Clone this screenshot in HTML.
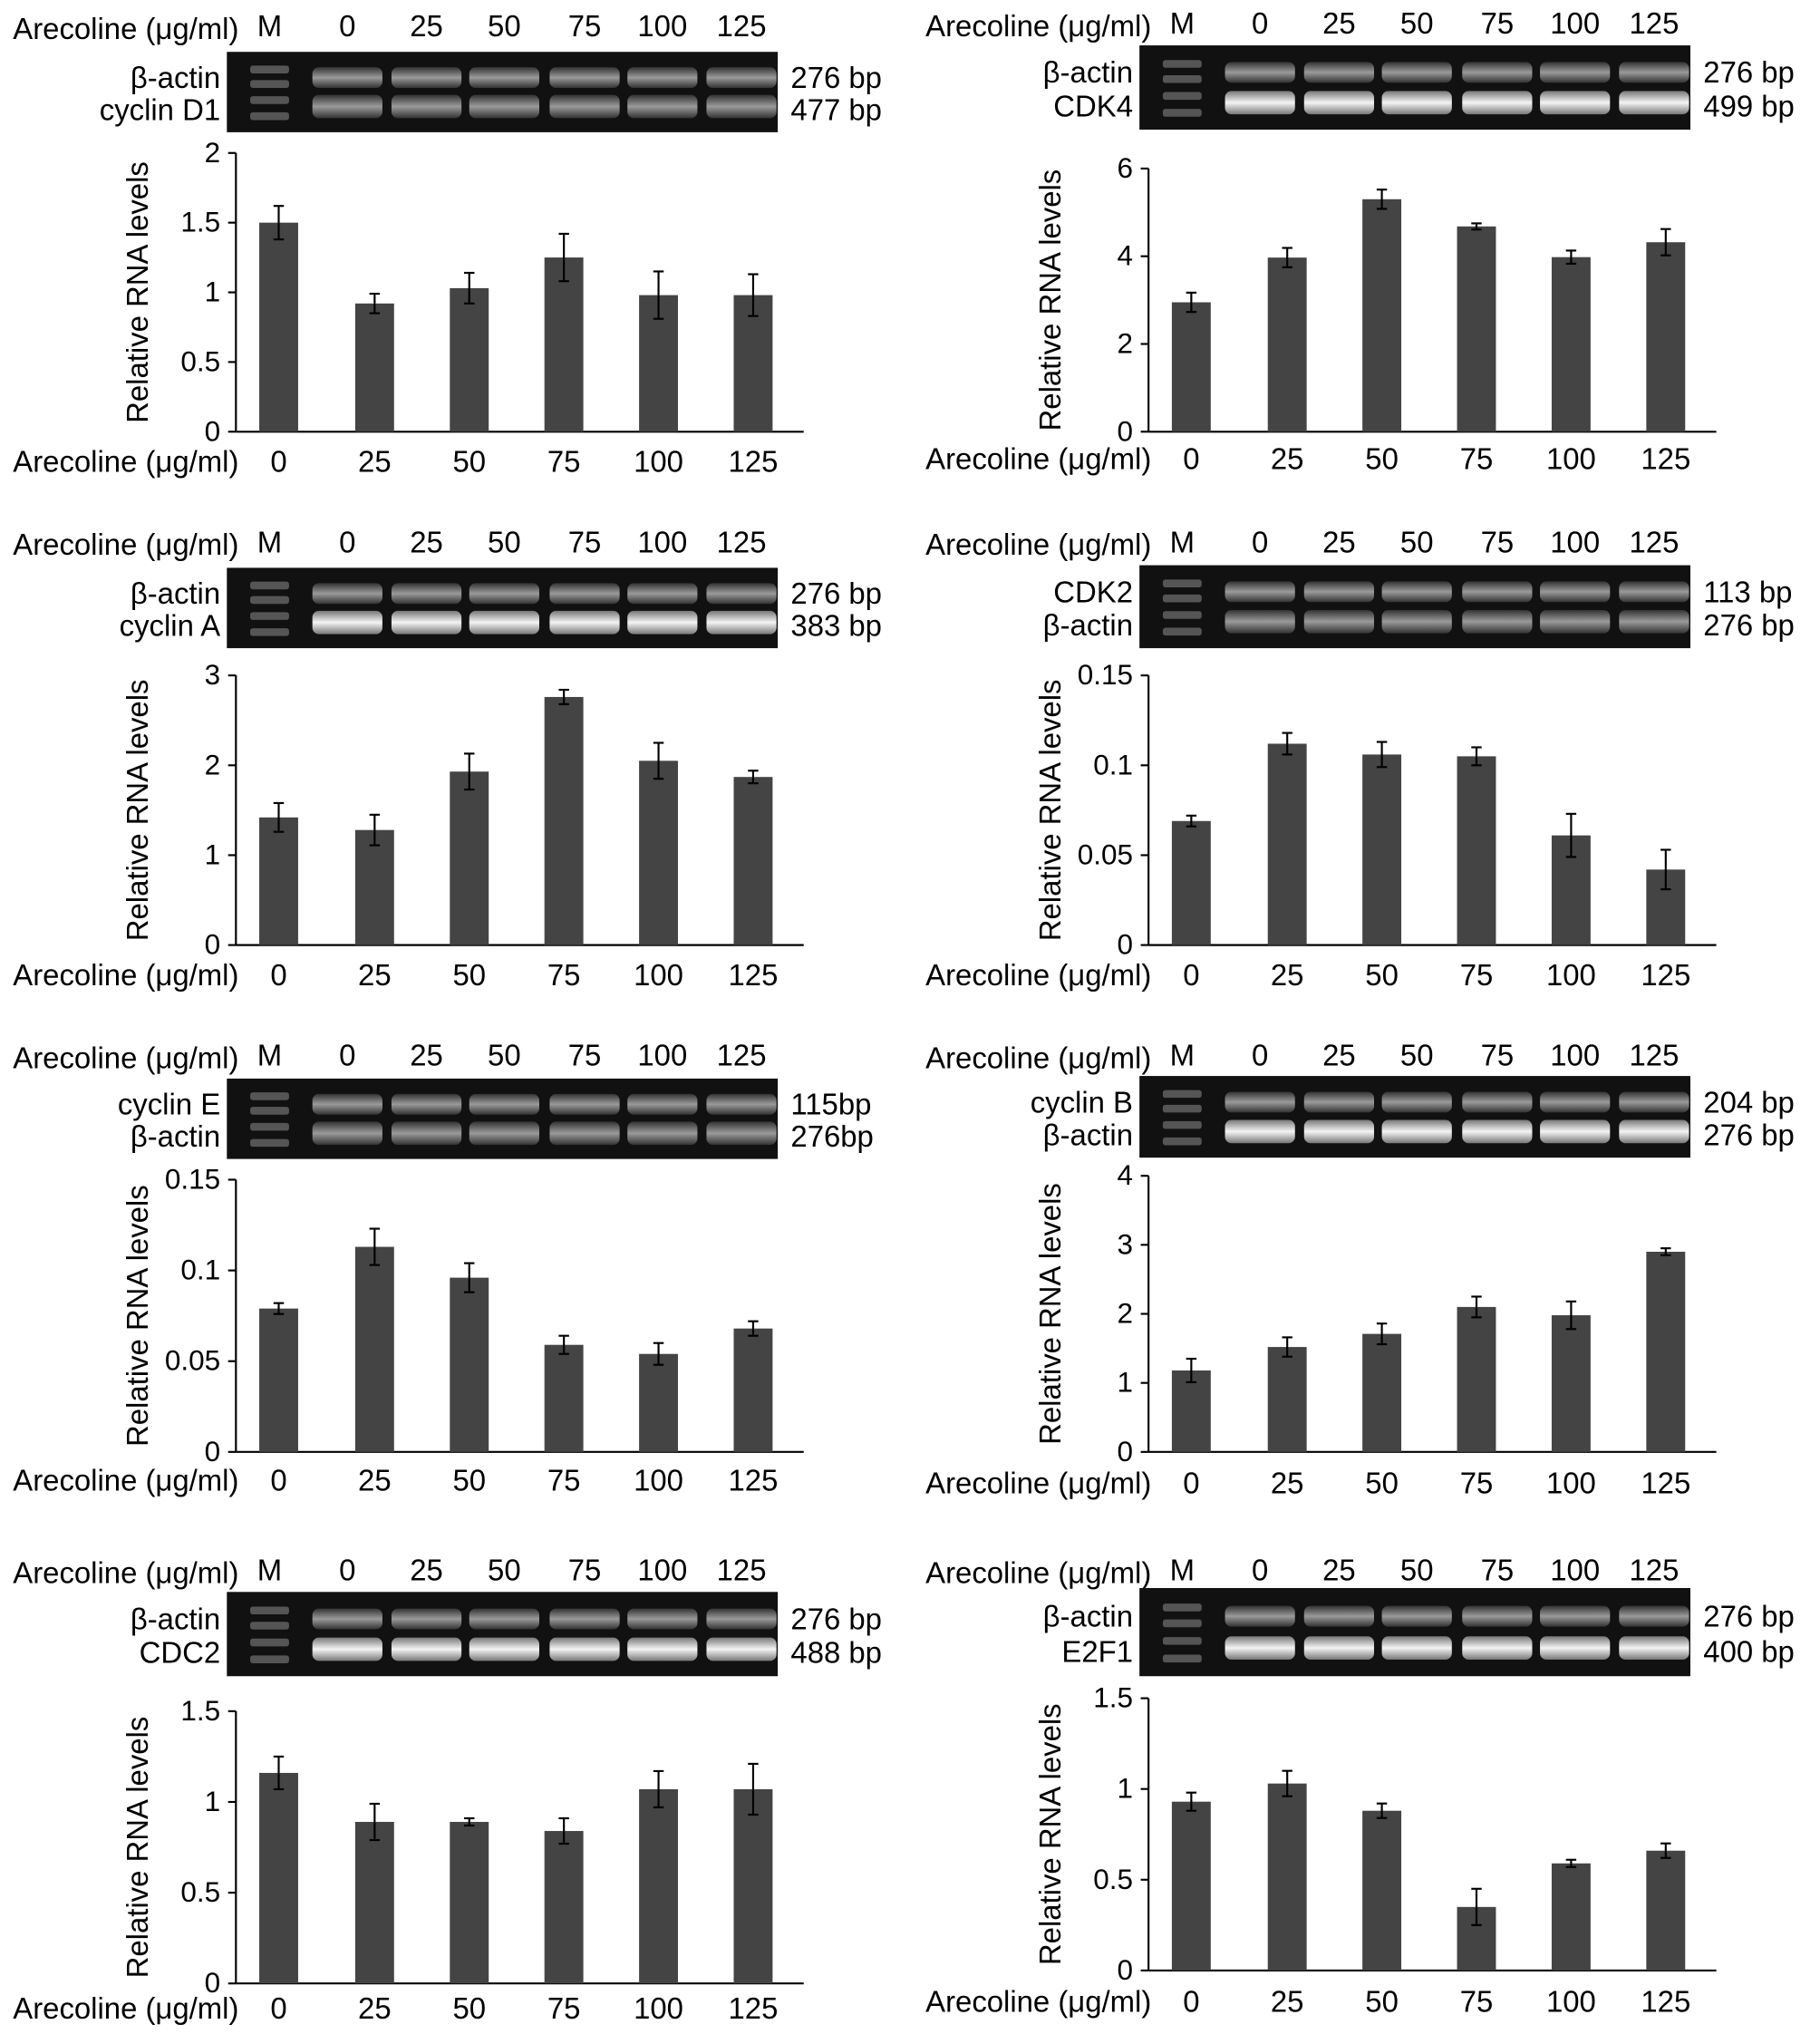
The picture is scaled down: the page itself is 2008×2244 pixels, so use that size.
<!DOCTYPE html>
<html><head><meta charset="utf-8"><style>
html,body{margin:0;padding:0;background:#fff;}
svg{display:block;font-family:"Liberation Sans",Arial,sans-serif;}
</style></head><body>
<svg id="fig" width="2008" height="2244" viewBox="0 0 1404 1569" xmlns="http://www.w3.org/2000/svg">
<defs>
<linearGradient id="band" x1="0" y1="0" x2="0" y2="1">
<stop offset="0" stop-color="#777"/><stop offset="0.5" stop-color="#f4f4f4"/><stop offset="1" stop-color="#777"/>
</linearGradient>
<linearGradient id="bandDim" x1="0" y1="0" x2="0" y2="1">
<stop offset="0" stop-color="#333"/><stop offset="0.5" stop-color="#9a9a9a"/><stop offset="1" stop-color="#333"/>
</linearGradient>
</defs>
</svg>
<script>
const categories = ["0","25","50","75","100","125"];
const cyclinD1Values = [1.5,0.92,1.03,1.25,0.98,0.98];
const cyclinD1Errors = [0.12,0.07,0.11,0.17,0.17,0.15];
const cdk4Values = [2.95,3.97,5.3,4.68,3.98,4.32];
const cdk4Errors = [0.22,0.22,0.22,0.07,0.15,0.3];
const cyclinAValues = [1.42,1.28,1.93,2.76,2.05,1.87];
const cyclinAErrors = [0.16,0.17,0.2,0.08,0.2,0.07];
const cdk2Values = [0.069,0.112,0.106,0.105,0.061,0.042];
const cdk2Errors = [0.003,0.006,0.007,0.005,0.012,0.011];
const cyclinEValues = [0.079,0.113,0.096,0.059,0.054,0.068];
const cyclinEErrors = [0.003,0.010,0.008,0.005,0.006,0.004];
const cyclinBValues = [1.18,1.52,1.71,2.1,1.98,2.9];
const cyclinBErrors = [0.17,0.14,0.15,0.15,0.2,0.05];
const cdc2Values = [1.16,0.89,0.89,0.84,1.07,1.07];
const cdc2Errors = [0.09,0.1,0.02,0.07,0.1,0.14];
const e2f1Values = [0.93,1.03,0.88,0.35,0.59,0.66];
const e2f1Errors = [0.05,0.07,0.04,0.1,0.02,0.04];
const ticks2 = ["0","0.5","1","1.5","2"];
const ticks6 = ["0","2","4","6"];
const ticks3 = ["0","1","2","3"];
const ticks015 = ["0","0.05","0.1","0.15"];
const ticks4 = ["0","1","2","3","4"];
const ticks15 = ["0","0.5","1","1.5"];

const NS="http://www.w3.org/2000/svg";
const svg=document.getElementById('fig');
function mk(tag,attrs,parent){const e=document.createElementNS(NS,tag);for(const k in attrs)e.setAttribute(k,attrs[k]);(parent||svg).appendChild(e);return e;}
function txt(s,x,y,size,anchor,parent){const t=mk('text',{x:x,y:y,'font-size':size,'text-anchor':anchor||'start',fill:'#000'},parent);t.textContent=s;return t;}

const panels=[
 {id:'cyclin-d1',ox:0,hy:22,gy:40,gh:62,top:118,bot:333,xl:357,vals:cyclinD1Values,errs:cyclinD1Errors,ticks:ticks2,max:2,labs:["β-actin","cyclin D1"],bps:["276 bp","477 bp"],bright:false},
 {id:'cdk4',ox:704,hy:20,gy:35,gh:65,top:130,bot:333,xl:355,vals:cdk4Values,errs:cdk4Errors,ticks:ticks6,max:6,labs:["β-actin","CDK4"],bps:["276 bp","499 bp"],bright:true},
 {id:'cyclin-a',ox:0,hy:420,gy:438,gh:62,top:521,bot:729,xl:753,vals:cyclinAValues,errs:cyclinAErrors,ticks:ticks3,max:3,labs:["β-actin","cyclin A"],bps:["276 bp","383 bp"],bright:true},
 {id:'cdk2',ox:704,hy:420,gy:436,gh:64,top:521,bot:729,xl:753,vals:cdk2Values,errs:cdk2Errors,ticks:ticks015,max:0.15,labs:["CDK2","β-actin"],bps:["113 bp","276 bp"],bright:false},
 {id:'cyclin-e',ox:0,hy:816,gy:832,gh:62,top:910,bot:1120,xl:1143,vals:cyclinEValues,errs:cyclinEErrors,ticks:ticks015,max:0.15,labs:["cyclin E","β-actin"],bps:["115bp","276bp"],bright:false},
 {id:'cyclin-b',ox:704,hy:816,gy:830,gh:63,top:907,bot:1120,xl:1145,vals:cyclinBValues,errs:cyclinBErrors,ticks:ticks4,max:4,labs:["cyclin B","β-actin"],bps:["204 bp","276 bp"],bright:true},
 {id:'cdc2',ox:0,hy:1213,gy:1228,gh:65,top:1320,bot:1530,xl:1550,vals:cdc2Values,errs:cdc2Errors,ticks:ticks15,max:1.5,labs:["β-actin","CDC2"],bps:["276 bp","488 bp"],bright:true},
 {id:'e2f1',ox:704,hy:1213,gy:1225,gh:68,top:1310,bot:1520,xl:1545,vals:e2f1Values,errs:e2f1Errors,ticks:ticks15,max:1.5,labs:["β-actin","E2F1"],bps:["276 bp","400 bp"],bright:true}
];
const lanesX=[215,289,362,435,508,581];
const FS=23;

panels.forEach(p=>{
 const g=mk('g',{});
 
 
 const ox=p.ox;
 const h=txt('Arecoline (μg/ml)',ox+10,p.hy+8,FS,'start',g);
 
 txt('M',ox+208,p.hy+6,FS,'middle',g);
 const hx=[268,329,389,451,511,572];
 categories.forEach((c,i)=>txt(c,ox+hx[i],p.hy+6,FS,'middle',g));
 const gel=mk('g',{},g);
 
 const gx=ox+175,gw=425;
 mk('rect',{x:gx,y:p.gy,width:gw,height:p.gh,fill:'#111'},gel);
 const y1=p.gy+p.gh*0.32,y2=p.gy+p.gh*0.68;
 [0.22,0.4,0.6,0.8].forEach(f=>mk('rect',{x:gx+18,y:p.gy+p.gh*f-3,width:30,height:6,fill:'#555',rx:2},gel));
 const grad=p.bright?'url(#band)':'url(#bandDim)';
 hx.forEach(x=>{
   mk('rect',{x:ox+x-27,y:y1-8,width:54,height:16,rx:5,fill:'url(#bandDim)'},gel);
   mk('rect',{x:ox+x-27,y:y2-9,width:54,height:18,rx:5,fill:grad},gel);
 });
 txt(p.labs[0],ox+170,p.gy+p.gh*0.32+8,FS,'end',g);
 txt(p.labs[1],ox+170,p.gy+p.gh*0.72+8,FS,'end',g);
 txt(p.bps[0],ox+610,p.gy+p.gh*0.32+8,FS,'start',g);
 txt(p.bps[1],ox+610,p.gy+p.gh*0.72+8,FS,'start',g);
 const ax=ox+182, right=ox+620;
 const yS=v=>p.bot-(v/p.max)*(p.bot-p.top);
 mk('line',{x1:ax,y1:p.top,x2:ax,y2:p.bot,stroke:'#000','stroke-width':1.5},g);
 mk('line',{x1:ax,y1:p.bot,x2:right,y2:p.bot,stroke:'#000','stroke-width':1.5},g);
 p.ticks.forEach(t=>{const y=yS(parseFloat(t));
   mk('line',{x1:ax-6,y1:y,x2:ax,y2:y,stroke:'#000','stroke-width':1.5},g);
   txt(t,ax-12,y+7,22,'end',g);});
 const yl=txt('Relative RNA levels',0,0,FS,'middle',g);
 yl.setAttribute('transform','translate('+(ox+114)+','+((p.top+p.bot)/2)+') rotate(-90)');
 
 p.vals.forEach((v,i)=>{
   const cx=ox+lanesX[i],y=yS(v),e=p.errs[i];
   const b=mk('rect',{x:cx-15,y:y,width:30,height:p.bot-y,fill:'#444'},g);
   
   const ya=yS(v+e),yb=yS(v-e);
   mk('line',{x1:cx,y1:ya,x2:cx,y2:yb,stroke:'#000','stroke-width':1.5},g);
   mk('line',{x1:cx-4,y1:ya,x2:cx+4,y2:ya,stroke:'#000','stroke-width':1.5},g);
   mk('line',{x1:cx-4,y1:yb,x2:cx+4,y2:yb,stroke:'#000','stroke-width':1.5},g);
   txt(categories[i],cx,p.xl+7,FS,'middle',g);
 });
 const xt=txt('Arecoline (μg/ml)',ox+10,p.xl+7,FS,'start',g);
 
});
</script>
</body></html>
